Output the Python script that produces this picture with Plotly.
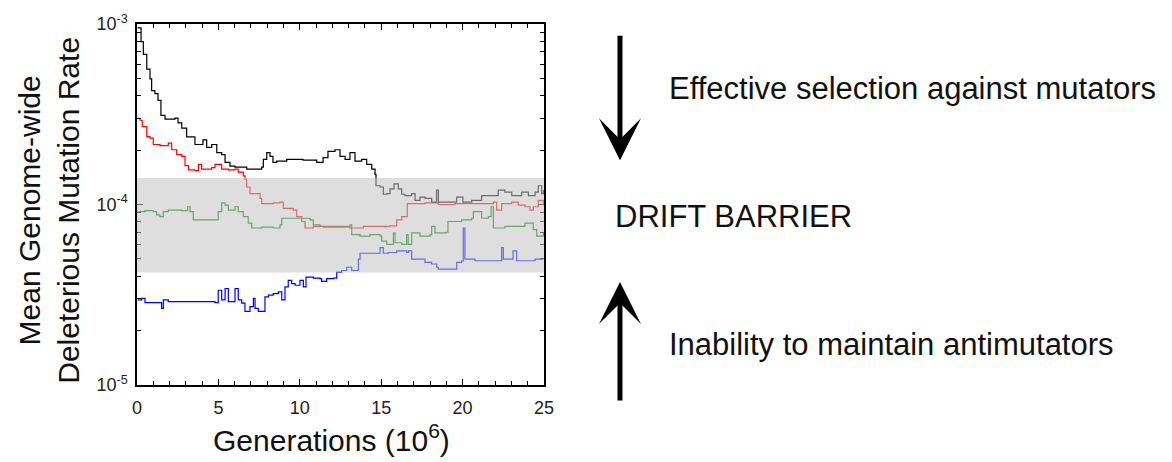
import plotly.graph_objects as go

# ---------------- data (generations in 10^6, rate per genome) ----------------
black_x = [0.04, 0.25, 0.39, 0.6, 0.8, 0.9, 1.1, 1.29, 1.47, 1.72, 2.13, 2.33, 2.52, 2.75,
           3.05, 3.36, 3.56, 3.87, 4.05, 4.28, 4.59, 4.9, 5.2, 5.41, 5.71, 6.02, 6.43, 6.74,
           7.43, 7.66, 7.76, 7.97, 8.17, 8.35, 8.58, 9.2, 10.2, 11.04, 11.43, 11.73, 12.16,
           12.47, 12.78, 13.08, 13.39, 13.8, 14.11, 14.42, 14.62, 14.68, 14.93, 15.13, 15.34,
           15.54, 15.79, 16.05, 16.26, 16.46, 16.87, 17.08, 17.38, 17.69, 18.1, 18.4, 18.51,
           19.1, 19.64, 20.02, 20.56, 21.17, 21.79, 22.19, 22.6, 23.02, 23.42, 23.63, 24.04,
           24.45, 24.65, 24.86, 24.96]
black_y = [9.51e-4, 7.98e-4, 6.78e-4, 5.62e-4, 4.96e-4, 4.27e-4, 4.11e-4, 3.77e-4, 3.12e-4,
           2.97e-4, 2.97e-4, 3.01e-4, 2.83e-4, 2.65e-4, 2.37e-4, 2.37e-4, 2.15e-4, 2.15e-4,
           2.28e-4, 2.07e-4, 2.15e-4, 1.94e-4, 1.89e-4, 1.71e-4, 1.63e-4, 1.61e-4, 1.61e-4,
           1.57e-4, 1.57e-4, 1.61e-4, 1.78e-4, 1.94e-4, 1.85e-4, 1.71e-4, 1.74e-4, 1.78e-4,
           1.76e-4, 1.71e-4, 1.82e-4, 1.97e-4, 2.01e-4, 1.85e-4, 1.78e-4, 1.94e-4, 1.74e-4,
           1.78e-4, 1.67e-4, 1.57e-4, 1.47e-4, 1.27e-4, 1.25e-4, 1.14e-4, 1.15e-4, 1.22e-4,
           1.30e-4, 1.22e-4, 1.14e-4, 1.12e-4, 1.15e-4, 1.055e-4, 1.10e-4, 1.08e-4, 1.03e-4,
           1.20e-4, 1.03e-4, 1.03e-4, 1.10e-4, 1.03e-4, 1.055e-4, 1.12e-4, 1.12e-4, 1.20e-4,
           1.17e-4, 1.12e-4, 1.12e-4, 1.17e-4, 1.12e-4, 1.17e-4, 1.27e-4, 1.15e-4, 1.20e-4]

red_x = [0.04, 0.18, 0.32, 0.6, 0.8, 1.0, 1.41, 1.92, 2.13, 2.44, 2.75, 2.95, 3.16, 3.56,
         3.77, 3.97, 4.59, 4.79, 5.2, 5.61, 6.02, 6.22, 6.53, 6.63, 6.73, 6.94, 7.35, 7.56,
         7.66, 8.08, 8.38, 8.78, 8.99, 9.6, 9.81, 10.12, 10.32, 10.83, 11.45, 12.27, 13.08,
         13.9, 14.72, 15.54, 15.95, 16.26, 16.52, 16.6, 17.08, 17.69, 18.51, 19.53, 20.56,
         21.58, 21.89, 22.09, 22.4, 23.02, 23.42, 23.83, 24.14, 24.35, 24.65, 24.96]
red_y = [3.00e-4, 2.93e-4, 2.70e-4, 2.38e-4, 2.33e-4, 2.15e-4, 2.12e-4, 2.19e-4, 2.01e-4,
         1.89e-4, 1.85e-4, 1.64e-4, 1.555e-4, 1.54e-4, 1.67e-4, 1.57e-4, 1.60e-4, 1.67e-4,
         1.57e-4, 1.555e-4, 1.57e-4, 1.51e-4, 1.44e-4, 1.38e-4, 1.25e-4, 1.15e-4, 1.15e-4,
         1.08e-4, 1.01e-4, 1.01e-4, 1.02e-4, 1.03e-4, 9.51e-5, 9.31e-5, 8.57e-5, 8.05e-5,
         7.41e-5, 7.56e-5, 7.50e-5, 7.50e-5, 7.41e-5, 7.56e-5, 7.56e-5, 7.62e-5, 8.21e-5,
         8.57e-5, 8.57e-5, 1.01e-4, 1.01e-4, 1.02e-4, 1.00e-4, 1.01e-4, 1.01e-4, 1.01e-4,
         1.03e-4, 9.31e-5, 1.01e-4, 1.03e-4, 9.91e-5, 9.72e-5, 9.31e-5, 9.72e-5, 1.055e-4,
         1.01e-4]

green_x = [0.04, 0.49, 1.0, 1.21, 1.41, 1.62, 1.92, 2.75, 3.11, 3.26, 3.46, 3.97, 4.79, 4.99,
           5.2, 5.41, 5.61, 6.02, 6.22, 6.53, 6.83, 7.05, 7.66, 8.37, 8.78, 8.89, 10.24, 10.63,
           10.83, 11.24, 12.27, 13.08, 13.19, 13.7, 14.31, 14.93, 15.03, 15.34, 15.75, 15.85,
           16.26, 16.56, 16.66, 16.87, 17.38, 18.0, 18.1, 18.3, 19.0, 19.1, 19.94, 20.56,
           20.66, 21.17, 21.58, 21.75, 21.89, 22.6, 23.22, 23.83, 24.34, 24.55, 24.96]
green_y = [9.13e-5, 9.24e-5, 9.13e-5, 8.75e-5, 8.57e-5, 9.13e-5, 9.31e-5, 9.24e-5, 9.72e-5,
           9.13e-5, 8.21e-5, 8.21e-5, 8.21e-5, 9.13e-5, 1.02e-4, 9.91e-5, 9.31e-5, 9.72e-5,
           9.13e-5, 8.57e-5, 7.88e-5, 7.41e-5, 7.50e-5, 7.41e-5, 7.72e-5, 8.39e-5, 8.39e-5,
           8.21e-5, 7.72e-5, 7.56e-5, 7.56e-5, 7.72e-5, 6.81e-5, 6.68e-5, 6.81e-5, 6.68e-5,
           6.27e-5, 6.01e-5, 6.96e-5, 6.14e-5, 6.01e-5, 6.81e-5, 6.01e-5, 6.96e-5, 6.68e-5,
           6.81e-5, 7.56e-5, 6.96e-5, 7.02e-5, 8.05e-5, 8.21e-5, 8.39e-5, 9.13e-5, 8.39e-5,
           8.57e-5, 9.72e-5, 7.41e-5, 7.56e-5, 7.56e-5, 7.88e-5, 7.25e-5, 6.68e-5, 6.96e-5]

blue_x = [0.04, 0.29, 0.49, 1.41, 1.51, 1.62, 1.92, 2.95, 3.77, 4.79, 4.99, 5.2, 5.41, 5.61,
          5.91, 6.02, 6.22, 6.43, 6.63, 6.94, 7.15, 7.25, 7.45, 7.76, 7.86, 8.07, 8.37, 8.68,
          8.89, 9.09, 9.29, 9.5, 9.71, 10.01, 10.22, 10.38, 10.83, 11.24, 11.34, 11.65, 12.06,
          12.27, 12.57, 12.88, 13.19, 13.5, 13.6, 13.7, 14.31, 14.82, 14.93, 15.13, 15.44,
          15.95, 16.57, 16.67, 16.87, 17.28, 17.69, 18.1, 18.41, 18.51, 19.33, 19.64, 19.94,
          20.04, 20.14, 20.76, 21.58, 22.4, 22.5, 23.1, 23.32, 24.24, 24.45, 24.96]
blue_y = [2.96e-5, 3.02e-5, 2.86e-5, 2.86e-5, 2.66e-5, 2.96e-5, 2.90e-5, 2.90e-5, 2.90e-5,
          2.86e-5, 3.35e-5, 2.96e-5, 3.42e-5, 2.90e-5, 2.90e-5, 3.42e-5, 2.96e-5, 2.84e-5,
          2.56e-5, 2.72e-5, 3.02e-5, 2.66e-5, 2.56e-5, 2.56e-5, 3.08e-5, 3.15e-5, 3.21e-5,
          3.28e-5, 2.96e-5, 3.50e-5, 3.80e-5, 3.64e-5, 3.57e-5, 3.80e-5, 3.50e-5, 3.96e-5,
          3.91e-5, 3.88e-5, 3.75e-5, 3.88e-5, 3.91e-5, 4.22e-5, 4.31e-5, 4.49e-5, 4.31e-5,
          4.31e-5, 4.98e-5, 5.37e-5, 5.37e-5, 5.37e-5, 5.77e-5, 5.37e-5, 5.42e-5, 5.53e-5,
          5.42e-5, 5.53e-5, 4.98e-5, 4.98e-5, 4.78e-5, 4.68e-5, 4.49e-5, 4.39e-5, 4.39e-5,
          4.78e-5, 4.88e-5, 7.41e-5, 4.98e-5, 4.88e-5, 4.88e-5, 5.77e-5, 4.98e-5, 5.53e-5,
          4.88e-5, 4.88e-5, 4.98e-5, 4.98e-5]

band_low = 4.2e-5
band_high = 1.4e-4

x_ticks = [0, 5, 10, 15, 20, 25]
y_ticks = [1e-5, 1e-4, 1e-3]
y_ticktext = ["10<sup>-5</sup>", "10<sup>-4</sup>", "10<sup>-3</sup>"]
y_minor = [m * 1e-5 for m in range(2, 10)] + [m * 1e-4 for m in range(2, 10)]

FONT = "Liberation Sans, Arial, sans-serif"

fig = go.Figure()
for xs, ys, col in [(blue_x, blue_y, "#0000ff"), (green_x, green_y, "#008000"),
                    (red_x, red_y, "#ff0000"), (black_x, black_y, "#000000")]:
    fig.add_trace(go.Scatter(x=xs, y=ys, mode="lines", showlegend=False, hoverinfo="skip",
                             line=dict(color=col, width=1.2, shape="hv")))

fig.add_shape(type="rect", xref="x", yref="y", x0=0, x1=25, y0=band_low, y1=band_high,
              fillcolor="rgba(195,195,195,0.55)", line=dict(width=0), layer="above")

fig.update_xaxes(range=[0, 25], tickvals=x_ticks, ticks="inside", ticklen=6, tickwidth=1,
                 tickcolor="black", showline=True, linecolor="black", linewidth=1.5,
                 mirror="ticks", showgrid=False, zeroline=False, ticklabelstandoff=6,
                 tickfont=dict(family=FONT, size=18, color="#222"),
                 minor=dict(dtick=1, ticks="inside", ticklen=4, tickcolor="black", tickwidth=1))
fig.update_yaxes(type="log", range=[-5, -3], tickvals=y_ticks, ticktext=y_ticktext,
                 ticks="inside", ticklen=6, tickwidth=1, tickcolor="black", showline=True,
                 linecolor="black", linewidth=1.5, mirror="ticks", showgrid=False,
                 zeroline=False, ticklabelstandoff=4,
                 tickfont=dict(family=FONT, size=18, color="#222"),
                 minor=dict(tickvals=y_minor, ticks="inside", ticklen=4, tickcolor="black",
                            tickwidth=1))

ann = []
ann.append(dict(xref="paper", yref="paper", x=0.4767, y=-0.148, xanchor="center",
                yanchor="middle", showarrow=False, text="Generations (10<sup>6</sup>)",
                font=dict(family=FONT, size=30, color="#111")))
ann.append(dict(xref="paper", yref="paper", x=-0.215, y=0.484, xanchor="center",
                yanchor="middle", showarrow=False, textangle=-90,
                text="Mean Genome-wide<br>Deleterious Mutation Rate",
                font=dict(family=FONT, size=30, color="#111")))
ann.append(dict(xref="paper", yref="paper", x=1.3022, y=0.82, xanchor="left",
                yanchor="middle", showarrow=False, text="Effective selection against mutators",
                font=dict(family=FONT, size=31, color="#111")))
ann.append(dict(xref="paper", yref="paper", x=1.1695, y=0.466, xanchor="left",
                yanchor="middle", showarrow=False, text="DRIFT BARRIER",
                font=dict(family=FONT, size=31, color="#111")))
ann.append(dict(xref="paper", yref="paper", x=1.3022, y=0.113, xanchor="left",
                yanchor="middle", showarrow=False, text="Inability to maintain antimutators",
                font=dict(family=FONT, size=31, color="#111")))
# arrows
ann.append(dict(xref="paper", yref="paper", x=1.1867, y=0.6223, ax=0, ay=-126, text="",
                showarrow=True, arrowhead=3, arrowwidth=5, arrowsize=1.4, arrowcolor="#000"))
ann.append(dict(xref="paper", yref="paper", x=1.1867, y=0.2853, ax=0, ay=120, text="",
                showarrow=True, arrowhead=3, arrowwidth=5, arrowsize=1.4, arrowcolor="#000"))

fig.update_layout(width=1172, height=462, margin=dict(l=137, r=628, t=17, b=77),
                  plot_bgcolor="white", paper_bgcolor="white", annotations=ann,
                  font=dict(family=FONT))

fig.write_html("out.html")
